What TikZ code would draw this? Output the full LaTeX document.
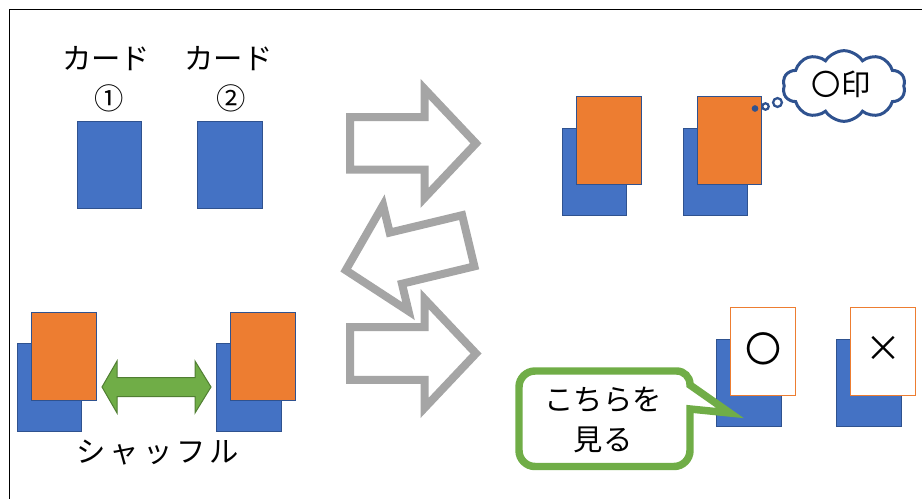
\documentclass[tikz,border=0pt]{standalone}
\usepackage{fontspec}
\newfontfamily\jp{Noto Sans CJK JP}
\usetikzlibrary{shapes.symbols}
\definecolor{cardblue}{HTML}{4472C4}
\definecolor{cardedge}{HTML}{2F528F}
\definecolor{cardorange}{HTML}{ED7D31}
\definecolor{arrowgray}{HTML}{A5A5A5}
\definecolor{calloutgreen}{HTML}{70AD47}
\definecolor{greenedge}{HTML}{507E32}
\begin{document}
\begin{tikzpicture}[x=0.75pt,y=-0.75pt,
  jptext/.style={font=\jp\fontsize{22pt}{30pt}\selectfont, inner sep=0pt, align=center},
  card/.style={minimum width=48.4pt, minimum height=65.6pt, inner sep=0pt, line width=0.75pt, draw=cardedge},
  bluecard/.style={card, fill=cardblue},
  orangecard/.style={card, fill=cardorange},
  whitecard/.style={card, fill=white, draw=cardorange},
  bigarrow/.style={draw=arrowgray, fill=white, line width=6pt, line join=miter},
  bubble/.style={draw=cardedge, fill=white, line width=1.7pt},
]
\useasboundingbox (0,0) rectangle (922,499);
\draw[line width=0.75pt] (9,499) -- (9,10) -- (922,10);

% top-left cards
\node[bluecard] (card1) at (109.5,165) {};
\node[bluecard] (card2) at (230,165) {};
\node[jptext] (label1) at (106,58.5) {カード};
\node[jptext] (num1) at (109,98) {①};
\node[jptext] (label2) at (228.5,58.5) {カード};
\node[jptext] (num2) at (231,98) {②};

% big gray arrows
\begin{scope}[shift={(413,143.4)}]
  \draw[bigarrow] (-63,-26.3) -- (11.5,-26.3) -- (11.5,-54.5) -- (63,0) -- (11.5,54.5) -- (11.5,26.3) -- (-63,26.3) -- cycle;
\end{scope}
\begin{scope}[shift={(413,353.5)}]
  \draw[bigarrow] (-63,-26.3) -- (11.5,-26.3) -- (11.5,-54.5) -- (63,0) -- (11.5,54.5) -- (11.5,26.3) -- (-63,26.3) -- cycle;
\end{scope}
\begin{scope}[shift={(407,255.5)}, rotate=193.5]
  \draw[bigarrow] (-63,-26.3) -- (11.5,-26.3) -- (11.5,-54.5) -- (63,0) -- (11.5,54.5) -- (11.5,26.3) -- (-63,26.3) -- cycle;
\end{scope}

% top-right stacks
\node[bluecard] (a1) at (594.5,172) {};
\node[orangecard] (a2) at (609,140.5) {};
\node[bluecard] (b1) at (715.5,172) {};
\node[orangecard] (b2) at (729.5,140.5) {};

% thought cloud
\node[cloud, cloud puffs=10, cloud puff arc=115, cloud ignores aspect, draw=cardedge, line width=2.25pt, fill=white, minimum width=92pt, minimum height=53pt, inner sep=0pt] (cloud) at (844,86) {};
\node[jptext] (mark) at (841,84) {〇印};
\fill[cardedge] (755,108.5) circle (2.5pt);
\draw[bubble] (765.5,106.5) circle (2.4pt);
\draw[bubble] (777.5,102.5) circle (3.3pt);

% bottom-left shuffle
\node[bluecard] (c1) at (49.5,387.5) {};
\node[orangecard] (c2) at (64,356.5) {};
\node[bluecard] (d1) at (249,387.5) {};
\node[orangecard] (d2) at (263,356.5) {};
\draw[fill=calloutgreen, draw=greenedge, line width=0.75pt] (102,387) -- (117,361) -- (117,377.5) -- (195,377.5) -- (195,361) -- (211,387) -- (195,413) -- (195,396.5) -- (117,396.5) -- (117,413) -- cycle;
\node[jptext] (shuffle) at (158,453) {シ\hspace{3pt}ャ\hspace{3pt}ッ\hspace{3pt}フ\hspace{3pt}ル};

% bottom-right result cards
\node[bluecard] (e1) at (749,383) {};
\node[whitecard] (e2) at (763,351.5) {};
\node[bluecard] (f1) at (869,383) {};
\node[whitecard] (f2) at (883,351.5) {};
\node[font=\jp\fontsize{27pt}{27pt}\selectfont, inner sep=0pt] (circ) at (763,349) {〇};
\node[font=\jp\fontsize{27pt}{27pt}\selectfont, inner sep=0pt] (cross) at (883,349) {×};

% speech callout
\draw[calloutgreen, line width=5.6pt, fill=white, line join=miter]
  (604,371) [rounded corners=10pt] -- (690,371) [sharp corners] -- (690,385) -- (730,413) -- (690,409)
  [rounded corners=12pt] -- (690,466.5) -- (519,466.5) -- (519,371) -- cycle;
\node[jptext] (look) at (603,420) {こちらを\\見る};
\end{tikzpicture}
\end{document}
